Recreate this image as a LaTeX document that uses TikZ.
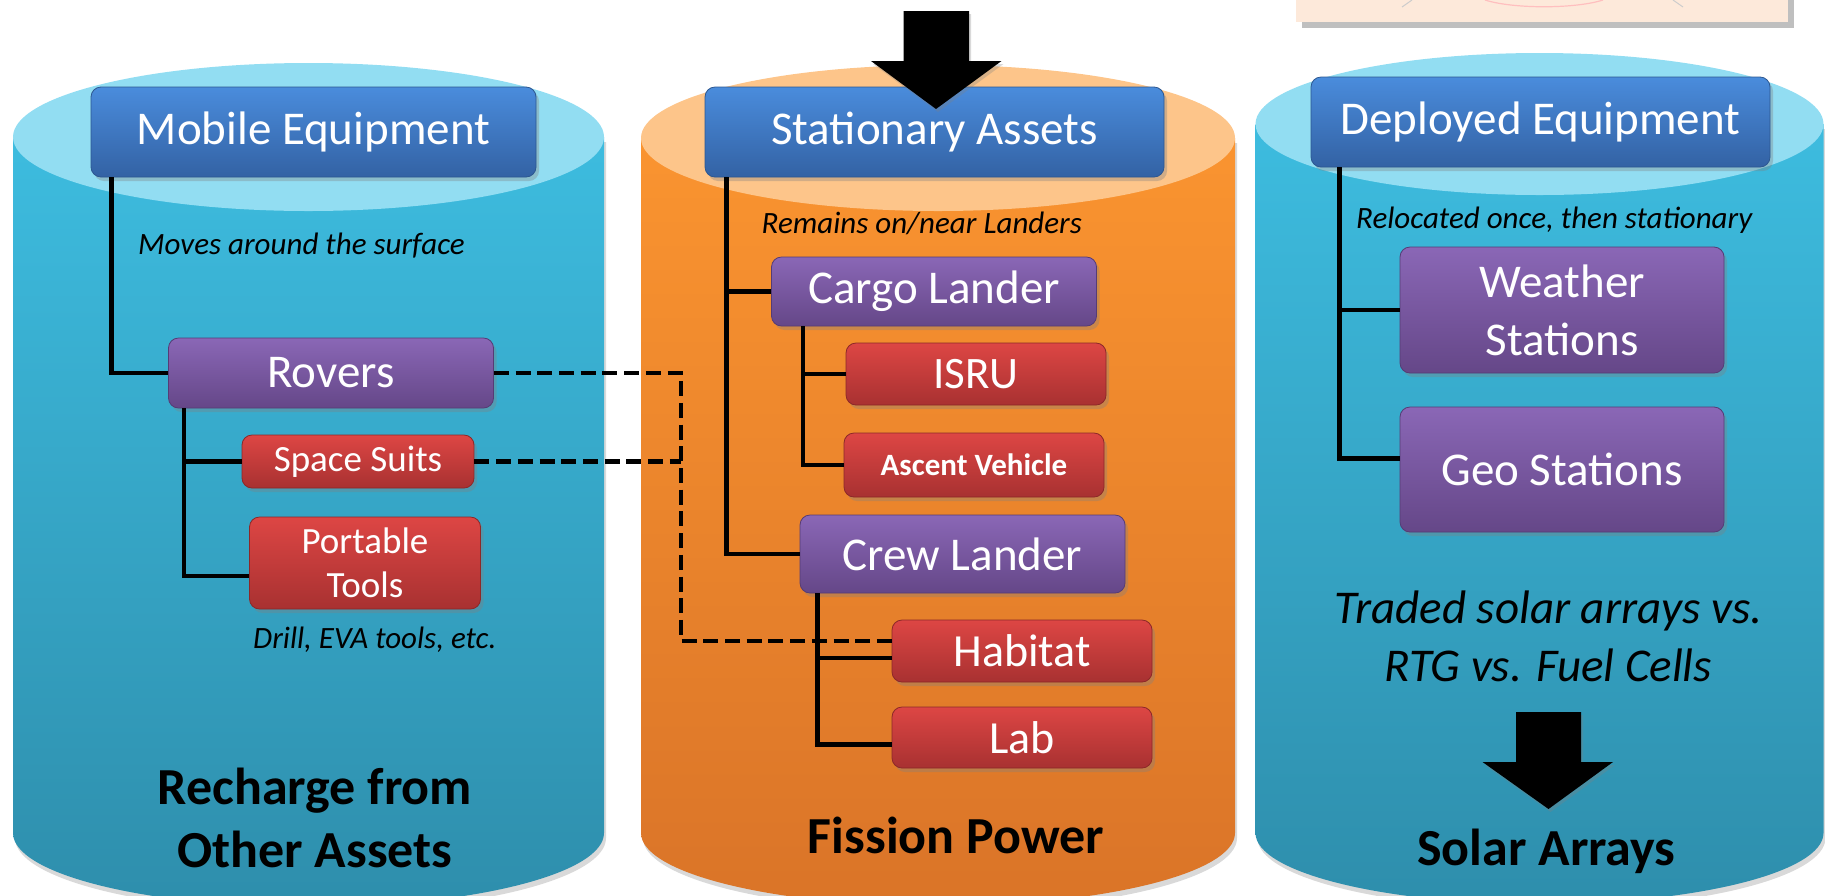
\documentclass[tikz,border=0pt]{standalone}
\usepackage{fontspec}
\setmainfont{Carlito}
\usetikzlibrary{shadows}

\definecolor{skyLid}{HTML}{92DDF2}
\definecolor{skyTop}{HTML}{3DBCDF}
\definecolor{skyBot}{HTML}{2E8EAC}
\definecolor{ambLid}{HTML}{FDC58A}
\definecolor{ambTop}{HTML}{FA9430}
\definecolor{ambBot}{HTML}{DA7428}
\definecolor{hubTop}{HTML}{4A8CDC}
\definecolor{hubBot}{HTML}{3362A4}
\definecolor{hubLine}{HTML}{2D5790}
\definecolor{unitTop}{HTML}{8A67B6}
\definecolor{unitBot}{HTML}{654788}
\definecolor{unitLine}{HTML}{553C75}
\definecolor{partTop}{HTML}{DD4644}
\definecolor{partBot}{HTML}{A83131}
\definecolor{partLine}{HTML}{8C2828}
\definecolor{peach}{HTML}{FDE9DA}

\tikzset{
  box/.style={rounded corners=10pt, text=white, align=center, inner sep=0pt, line width=0.8pt,
    font=\fontsize{47}{58}\selectfont,
    drop shadow={opacity=0.35, shadow xshift=3pt, shadow yshift=-4pt}},
  hub/.style={box, top color=hubTop, bottom color=hubBot, draw=hubLine},
  unit/.style={box, top color=unitTop, bottom color=unitBot, draw=unitLine},
  part/.style={box, top color=partTop, bottom color=partBot, draw=partLine},
  branch/.style={line width=4.5pt},
  feed/.style={line width=4.5pt, dash pattern=on 15pt off 6.7pt},
  note/.style={font=\fontsize{31}{36}\selectfont\itshape, inner sep=0pt},
  power/.style={font=\fontsize{52}{63}\selectfont\bfseries, align=center, inner sep=0pt}
}

\begin{document}
\begin{tikzpicture}[x=1pt, y=-1pt]
    \useasboundingbox (0,0) rectangle (1825,895);
    \clip (0,0) rectangle (1825,895);

    % Corner of the picture above
    \fill[peach, drop shadow={opacity=0.5, shadow xshift=6pt, shadow yshift=-6pt}] (1296,-20) rectangle (1788,22);
    \draw[red!25, line width=1.2pt] (1485,0) .. controls (1513,9) and (1575,9) .. (1603,0);
    \draw[black!20, line width=1pt] (1402,7) -- (1412,0);
    \draw[black!20, line width=1pt] (1683,7) -- (1673,0);

    % Cylinders
    \foreach \cx/\rx/\cy/\ry/\ctop/\cbot/\clid in {308.5/295.5/137/74/skyTop/skyBot/skyLid,
        938/297/138/73/ambTop/ambBot/ambLid, 1539.5/284/124/71/skyTop/skyBot/skyLid} {
        \path[top color=\ctop, bottom color=\cbot, drop shadow={opacity=0.3, shadow xshift=2pt, shadow yshift=-5pt}]
            (\cx-\rx, \cy) -- (\cx-\rx, 833) arc[start angle=180, end angle=360, x radius=\rx pt, y radius=\ry pt]
            -- (\cx+\rx, \cy) -- cycle;
        \fill[\clid] (\cx, \cy) ellipse[x radius=\rx pt, y radius=\ry pt];
    }

    % Top level
    \node[hub, minimum width=445pt, minimum height=90pt] (mobile) at (313.5,132) {Mobile Equipment};
    \node[hub, minimum width=459pt, minimum height=90pt] (stationary) at (934.5,132) {Stationary Assets};
    \node[hub, minimum width=459pt, minimum height=90pt] (deployed) at (1540.5,122) {Deployed Equipment};

    % Second level
    \node[unit, minimum width=325pt, minimum height=70pt] (rovers) at (331,373) {Rovers};
    \node[unit, minimum width=325pt, minimum height=69pt] (cargo) at (934,291.5) {Cargo Lander};
    \node[unit, minimum width=325pt, minimum height=78pt] (crew) at (962.5,554) {Crew Lander};
    \node[unit, minimum width=324pt, minimum height=126pt] (weather) at (1562,310) {Weather\\Stations};
    \node[unit, minimum width=324pt, minimum height=125pt] (geo) at (1562,469.5) {Geo Stations};

    % Third level
    \node[part, font=\fontsize{37}{44}\selectfont, minimum width=232pt, minimum height=53pt] (suits) at (358,461.5) {Space Suits};
    \node[part, font=\fontsize{37}{44}\selectfont, minimum width=231pt, minimum height=92pt] (tools) at (365,563) {Portable\\Tools};
    \node[part, font=\fontsize{45}{50}\selectfont, minimum width=260pt, minimum height=62pt] (isru) at (976,374) {ISRU};
    \node[part, font=\fontsize{31}{36}\selectfont\bfseries, minimum width=260pt, minimum height=64pt] (ascent) at (974,465) {Ascent Vehicle};
    \node[part, font=\fontsize{46}{50}\selectfont, minimum width=260pt, minimum height=62pt] (habitat) at (1022,651) {Habitat};
    \node[part, font=\fontsize{46}{50}\selectfont, minimum width=260pt, minimum height=61pt] (lab) at (1022,737.5) {Lab};

    % Tree lines
    \draw[branch] ([xshift=21pt]mobile.south west) |- (rovers.west);
    \draw[branch] ([xshift=16pt]rovers.south west) |- (suits.west);
    \draw[branch] ([xshift=16pt]rovers.south west) |- ([yshift=-13pt]tools.west);
    \draw[branch] ([xshift=22pt]stationary.south west) |- (cargo.west);
    \draw[branch] ([xshift=22pt]stationary.south west) |- (crew.west);
    \draw[branch] ([xshift=32pt]cargo.south west) |- (isru.west);
    \draw[branch] ([xshift=32pt]cargo.south west) |- (ascent.west);
    \draw[branch] ([xshift=18pt]crew.south west) |- ([yshift=-7pt]habitat.west);
    \draw[branch] ([xshift=18pt]crew.south west) |- ([yshift=-7pt]lab.west);
    \draw[branch] ([xshift=29pt]deployed.south west) |- (weather.west);
    \draw[branch] ([xshift=29pt]deployed.south west) |- ([yshift=11pt]geo.west);

    % Recharge links
    \coordinate (bus) at (681,641);
    \draw[feed] (rovers.east) -| (bus) -- (bus -| habitat.west);
    \draw[feed] (suits.east) -- (suits.east -| bus);

    % Notes
    \node[note, anchor=base west] (moves) at (138,254) {Moves around the surface};
    \node[note, anchor=base west] (drill) at (253,648) {Drill, EVA tools, etc.};
    \node[note, anchor=base west] (remains) at (761.5,233) {Remains on/near Landers};
    \node[note, anchor=base west] (relocated) at (1356,228) {Relocated once, then stationary};
    \node[note, font=\fontsize{47}{58}\selectfont\itshape, align=center] (traded) at (1548.5,636) {Traded solar arrays vs.\\RTG vs. Fuel Cells};

    % Power sources
    \node[power] (recharge) at (315,818) {Recharge from\\Other Assets};
    \node[power, anchor=base] (fission) at (956,853) {Fission Power};
    \node[power, anchor=base] (solar) at (1546.5,865) {Solar Arrays};

    % Block arrows
    \fill[black, drop shadow={opacity=0.3, shadow xshift=2pt, shadow yshift=-3pt}]
        (903.5,11) -- (969,11) -- (969,61) -- (1001.5,61) -- (936,109) -- (871,61) -- (903.5,61) -- cycle;
    \fill[black, drop shadow={opacity=0.3, shadow xshift=2pt, shadow yshift=-3pt}]
        (1516,712) -- (1581,712) -- (1581,762) -- (1613,762) -- (1548.5,809) -- (1482.5,762) -- (1516,762) -- cycle;
\end{tikzpicture}
\end{document}
